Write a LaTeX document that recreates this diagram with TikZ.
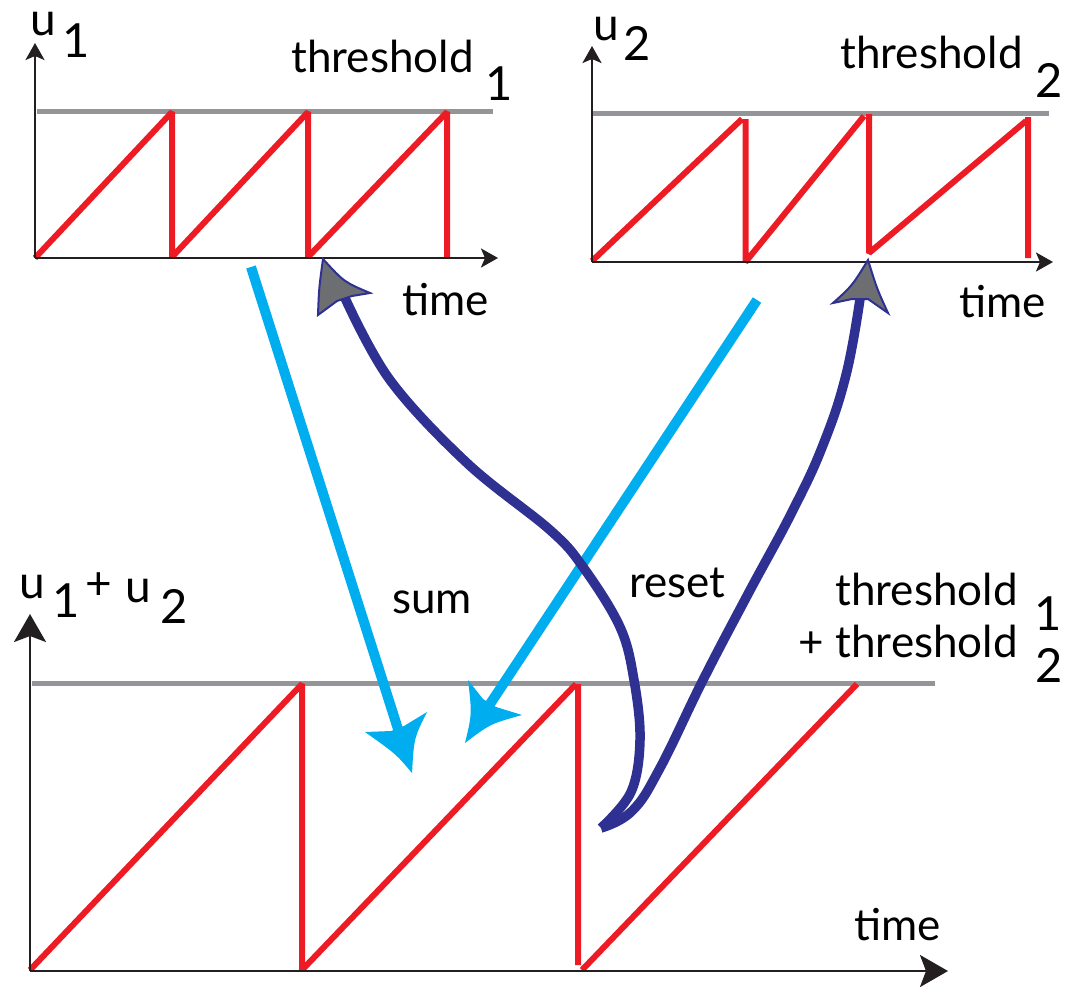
\documentclass[tikz,border=0pt]{standalone}
\usepackage{fontspec}
\setmainfont{Lato}
\usetikzlibrary{arrows.meta}
\definecolor{cred}{HTML}{ED1C24}
\definecolor{cgray}{HTML}{939598}
\definecolor{cblack}{HTML}{231F20}
\definecolor{ccyan}{HTML}{00AEEF}
\definecolor{cnavy}{HTML}{2E3192}
\definecolor{chead}{HTML}{6D6E71}
\begin{document}
\begin{tikzpicture}[x=1pt,y=-1pt,
  axis/.style={draw=cblack, line width=2.5pt, -{Stealth[length=17pt,width=19pt,inset=4pt]}},
  bigaxis/.style={draw=cblack, line width=2.5pt, -{Stealth[length=28pt,width=32pt,inset=6pt]}},
  thr/.style={draw=cgray, line width=5pt},
  saw/.style={draw=cred, line width=6pt, line join=bevel},
  lab/.style={inner sep=0pt, anchor=base, font=\fontsize{44}{52}\selectfont},
  smallu/.style={inner sep=0pt, anchor=base, font=\fontsize{46}{54}\selectfont},
  sub/.style={inner sep=0pt, anchor=base, font=\fontsize{47}{56}\selectfont},
  sumline/.style={draw=ccyan, line width=10pt},
  sumhead/.style={fill=ccyan},
  resetline/.style={draw=cnavy, line width=9.5pt},
  resethead/.style={fill=chead, draw=cnavy, line width=2pt, line join=miter}
]
\useasboundingbox (0,0) rectangle (1075,986);

% ---------- top-left plot ----------
\coordinate (o1) at (35,258);
\coordinate (y1) at (35,43);
\coordinate (x1) at (498,258);
\draw[thr] (37,111) -- (493,111);
\draw[saw] (35,258) -- (172,112) -- (172,257) -- (308,112) -- (308,257) -- (447,112) -- (447,257);
\draw[axis] (o1) -- (y1);
\draw[axis] (o1) -- (x1);
\node[smallu] (u1) at (43,35) {u};
\node[sub] (u1s) at (76.5,57) {1};
\node[lab] (th1) at (382.5,72) {threshold};
\node[sub] (th1s) at (499.5,100) {1};
\node[lab] (t1) at (445.5,315) {time};

% ---------- top-right plot ----------
\coordinate (o2) at (592,262);
\coordinate (y2) at (592,46);
\coordinate (x2) at (1053,262);
\draw[thr] (592,113.5) -- (1049,113.5);
\draw[saw] (592,261) -- (742,119)
           (745.5,119) -- (745.5,262) -- (864,116)
           (869,114) -- (869,253) -- (1026,121)
           (1028,117) -- (1028,258);
\draw[axis] (o2) -- (y2);
\draw[axis] (o2) -- (x2);
\node[smallu] (u2) at (606,40) {u};
\node[sub] (u2s) at (637.5,60) {2};
\node[lab] (th2) at (931.5,68) {threshold};
\node[sub] (th2s) at (1049,97) {2};
\node[lab] (t2) at (1002.5,317) {time};

% ---------- bottom plot ----------
\coordinate (o3) at (30,971);
\coordinate (y3) at (30,614);
\coordinate (x3) at (948,971);
\draw[thr] (32,683) -- (935,683);
\draw[saw] (30,970) -- (302,684) -- (302,970) -- (576,684)
           (578,684) -- (578,965)
           (582,970) -- (857,684);
\draw[bigaxis] (o3) -- (y3);
\draw[bigaxis] (o3) -- (x3);
\node[smallu] (u3a) at (32,598) {u};
\node[sub] (u3as) at (66.5,617) {1};
\node[smallu] (plus) at (98.5,599) {+};
\node[smallu] (u3b) at (138,602) {u};
\node[sub] (u3bs) at (174,623) {2};
\node[lab] (th3a) at (926.5,605) {threshold};
\node[lab, anchor=base east] (th3b) at (1018,657) {+ threshold};
\node[sub] (th3as) at (1048.5,630) {1};
\node[sub] (th3bs) at (1049,682) {2};
\node[lab] (t3) at (897.5,940) {time};

\node[lab] (sum) at (432,613) {sum};
\node[lab] (reset) at (677.5,597) {reset};

% ---------- sum arrows (cyan) ----------
\coordinate (s1a) at (251,267);
\coordinate (s1b) at (398,729);
\draw[sumline] (s1a) -- (s1b);
\fill[sumhead] (412,773) .. controls (396,754) .. (365,732) -- (391,731) -- (404,726) -- (427,712) .. controls (414,738) .. cycle;

\coordinate (s2a) at (757,300);
\coordinate (s2b) at (490,704);
\draw[sumline] (s2a) -- (s2b);
\fill[sumhead] (465,743) .. controls (472,714) .. (468,680) -- (483,699) -- (496,707) -- (522,715) .. controls (490,724) .. cycle;

% ---------- reset arrows (navy) ----------
\coordinate (rl) at (345,298);
\coordinate (rb) at (601,828);
\coordinate (rr) at (860,299);
\draw[resetline] plot[smooth, tension=0.6] coordinates {(rl) (390,380) (467,463) (550,530) (583,567) (620,627) (634,680) (640,740) (631,792) (rb)};
\draw[resetline] plot[smooth, tension=0.7] coordinates {(rb) (632,811) (660,768) (703,680) (748,594) (792,512) (823,445) (846,375) (rr)};
\draw[resethead] (323,259) .. controls (319,288) .. (318,315) -- (337,301) -- (352,296) -- (370,293) .. controls (344,282) .. cycle;
\draw[resethead] (868,260) .. controls (852,286) .. (833,303) -- (852,299) -- (868,299) -- (888,313) .. controls (877,289) .. cycle;
\end{tikzpicture}
\end{document}
